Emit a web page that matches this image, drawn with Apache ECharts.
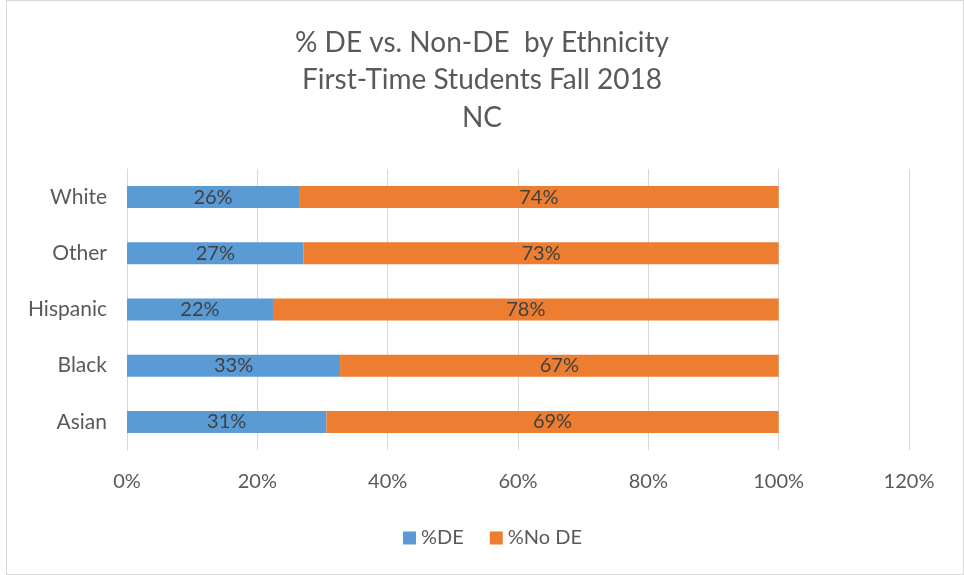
<!DOCTYPE html>
<html><head><meta charset="utf-8">
<script src="https://cdn.jsdelivr.net/npm/echarts@6/dist/echarts.min.js"></script>
<style>
html,body{margin:0;padding:0;background:#fff;}
#frame{position:absolute;left:6px;top:0px;width:956px;height:573px;border:1px solid #d9d9d9;box-sizing:content-box;}
#c{position:absolute;left:0;top:0;width:964px;height:575px;}
</style></head>
<body>
<div id="frame"></div>
<div id="c"></div>
<script>
var categories = ['Asian', 'Black', 'Hispanic', 'Other', 'White'];
var deValues = [30.6, 32.7, 22.4, 27.1, 26.4];
var noDeValues = [69.4, 67.3, 77.6, 72.9, 73.6];
var xTicks = [0, 20, 40, 60, 80, 100, 120];
var titleLines = ['% DE vs. Non-DE  by Ethnicity', 'First-Time Students Fall 2018', 'NC'];
var seriesNames = ['%DE', '%No DE'];

var font = 'Lato, "Open Sans", sans-serif';
var chart = echarts.init(document.getElementById('c'), null, {renderer: 'canvas'});
chart.setOption({
  animation: false,
  backgroundColor: 'transparent',
  title: {
    text: titleLines.join('\n'),
    left: 'center', top: 19,
    textStyle: {fontFamily: font, fontSize: 28, fontWeight: 'normal', color: '#595959', lineHeight: 37.5}
  },
  legend: {
    top: 523, left: 398,
    itemWidth: 13, itemHeight: 13, itemGap: 26,
    icon: 'rect',
    textStyle: {fontFamily: font, fontSize: 20, color: '#595959', padding: [0, 0, 0, 0]},
    data: seriesNames
  },
  grid: {left: 127, right: 55, top: 169, bottom: 125, containLabel: false},
  xAxis: {
    type: 'value', min: 0, max: 120, interval: 20,
    axisLine: {show: false}, axisTick: {show: false},
    splitLine: {show: true, lineStyle: {color: '#d9d9d9', width: 1}},
    axisLabel: {fontFamily: font, fontSize: 20, color: '#595959', margin: 22,
      formatter: function(v){ return xTicks.indexOf(v) >= 0 ? v + '%' : ''; }}
  },
  yAxis: {
    type: 'category', data: categories,
    axisLine: {show: true, lineStyle: {color: '#d9d9d9'}},
    axisTick: {show: false},
    axisLabel: {fontFamily: font, fontSize: 21, color: '#595959', margin: 20}
  },
  series: [
    {
      name: seriesNames[0], type: 'bar', stack: 'total', data: deValues,
      barWidth: 22,
      itemStyle: {color: '#5b9bd5'},
      label: {show: true, position: 'inside', fontFamily: font, fontSize: 20, color: '#404040',
        formatter: function(p){ return Math.round(p.value) + '%'; }}
    },
    {
      name: seriesNames[1], type: 'bar', stack: 'total', data: noDeValues,
      barWidth: 22,
      itemStyle: {color: '#ed7d31'},
      label: {show: true, position: 'inside', fontFamily: font, fontSize: 20, color: '#404040',
        formatter: function(p){ return Math.round(p.value) + '%'; }}
    }
  ]
});
</script>
</body></html>
